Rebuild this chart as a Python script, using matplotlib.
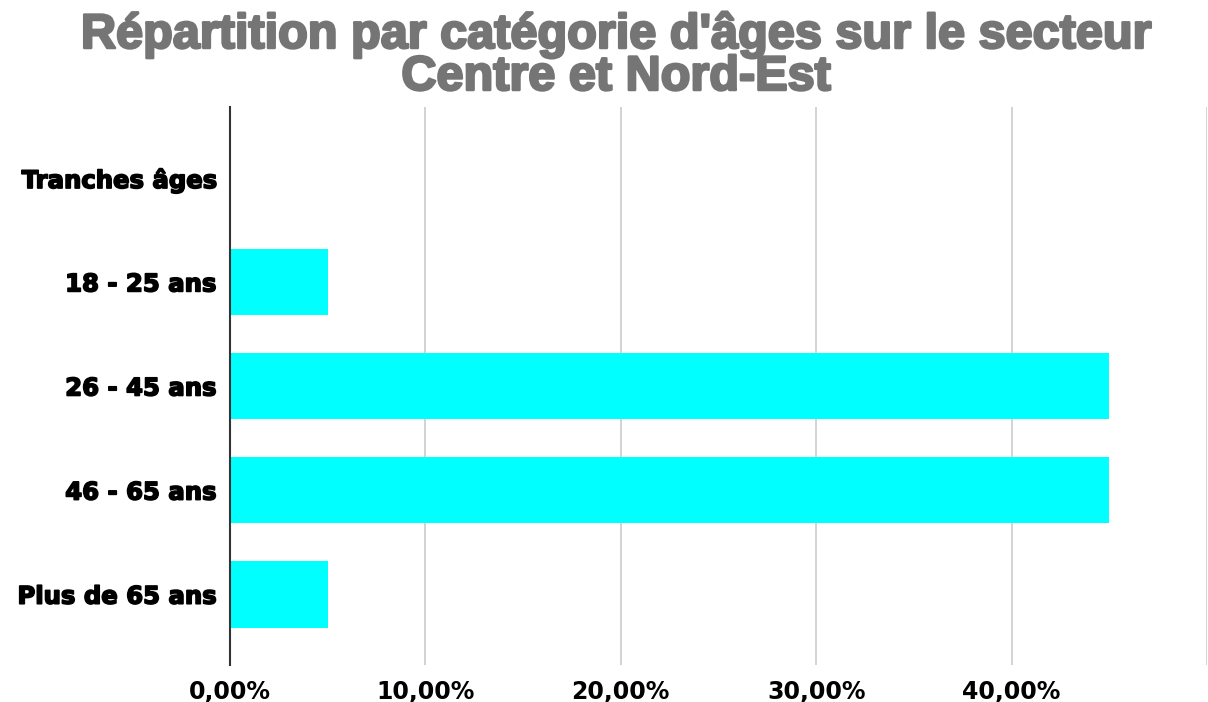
#!/usr/bin/env python3

import matplotlib
matplotlib.use('Agg')
import matplotlib.pyplot as plt  # type: ignore
import matplotlib.patheffects as pe  # type: ignore
from matplotlib.ticker import FuncFormatter  # type: ignore

categories = ['Tranches âges', '18 - 25 ans', '26 - 45 ans', '46 - 65 ans', 'Plus de 65 ans']
shares = [0.0, 5.0, 45.0, 45.0, 5.0]
x_ticks = [0, 10, 20, 30, 40, 50]
title_lines = ["Répartition par catégorie d'âges sur le secteur", "Centre et Nord-Est"]


def pct(v, pos):
    if v >= 50:
        return ''
    return f'{v:.2f}'.replace('.', ',') + '%'


fig = plt.figure(figsize=(12.08, 7.02), dpi=100)
ax = fig.add_axes([230 / 1208, 1 - 665 / 702, 977 / 1208, 558 / 702])

pos = list(range(len(categories)))
ax.barh(pos, shares, height=0.64, color='#00ffff', zorder=3)

ax.set_xlim(0, 50)
ax.set_ylim(len(categories) - 1 + 0.68, -0.68)
ax.set_xticks(x_ticks)
ax.xaxis.set_major_formatter(FuncFormatter(pct))
ax.set_yticks(pos)
ax.set_yticklabels(categories, fontfamily='DejaVu Sans', fontweight='bold',
                   fontsize=17.5)
for lbl in ax.get_yticklabels():
    lbl.set_path_effects([pe.withStroke(linewidth=1.2, foreground='black')])
for lbl in ax.get_xticklabels():
    lbl.set_fontfamily('DejaVu Sans')
    lbl.set_fontweight('bold')
    lbl.set_fontsize(17)

ax.grid(axis='x', color='#cccccc', linewidth=1.2, zorder=0)
ax.tick_params(axis='both', length=0)
ax.tick_params(axis='y', pad=10)
ax.tick_params(axis='x', pad=11)
for side in ['top', 'right', 'bottom']:
    ax.spines[side].set_visible(False)
ax.spines['left'].set_color('#333333')
ax.spines['left'].set_linewidth(1.5)
ax.spines['left'].set_zorder(4)

for i, line in enumerate(title_lines):
    fig.text(0.51, 1 - (48 + 42 * i) / 702, line, ha='center', va='baseline',
             fontsize=35, fontfamily='Liberation Sans', fontweight='bold',
             color='#757575',
             path_effects=[pe.withStroke(linewidth=1.8, foreground='#757575')])

fig.savefig('out.png', dpi=100)
